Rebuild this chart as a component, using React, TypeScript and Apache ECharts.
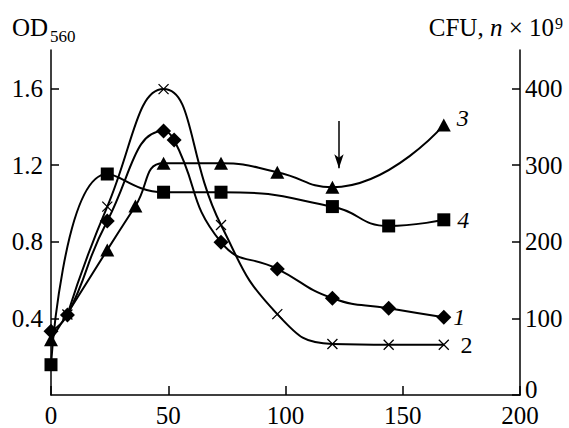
import React, { useEffect, useRef } from "react";
import * as echarts from "echarts";

const leftTicks = [0.4, 0.8, 1.2, 1.6];
const rightTicks = [0, 100, 200, 300, 400];

// series 1 – diamonds
const curve1: number[][] = [
  [0, 0.332], [7, 0.418], [24, 0.908], [48, 1.377], [52.5, 1.33],
  [72.5, 0.797], [96.5, 0.658], [120, 0.505], [144, 0.453], [167.5, 0.406],
];
// series 2 – crosses
const curve2: number[][] = [
  [7, 0.42], [24, 0.983], [48, 1.596], [72.5, 0.887], [96.5, 0.422],
  [120, 0.266], [144, 0.262], [167.5, 0.262],
];
// series 3 – triangles
const curve3: number[][] = [
  [0, 0.288], [24, 0.757], [36, 0.986], [48, 1.209],
  [72.5, 1.209], [96.5, 1.162], [120, 1.084], [167.5, 1.409],
];
// series 4 – squares
const curve4: number[][] = [
  [0, 0.158], [24, 1.153], [48, 1.058], [72.5, 1.058],
  [120, 0.983], [144, 0.882], [167.5, 0.914],
];
const curveNames = ["1", "2", "3", "4"];
const arrowStart = [122.8, 1.43];
const arrowEnd = [122.8, 1.183];

const FONT = "'Liberation Serif', 'DejaVu Serif', serif";
const CROSS = "path://M0,0L10,10M10,0L0,10";

function withEndLabel(pts: number[][], name: string, extra: any) {
  return pts.map((p, i) =>
    i === pts.length - 1
      ? {
          value: p,
          label: {
            show: true,
            formatter: name,
            position: "right",
            color: "#000",
            fontFamily: FONT,
            fontSize: 24,
            ...extra,
          },
        }
      : { value: p }
  );
}

export default function App() {
  const ref = useRef<HTMLDivElement>(null);
  useEffect(() => {
    if (!ref.current) return;
    const chart = echarts.init(ref.current, null, { renderer: "svg" });
    const axisLine = { show: true, lineStyle: { color: "#000", width: 1.5 } };
    const lineBase = {
      type: "line",
      smooth: 0.5,
      lineStyle: { color: "#000", width: 2 },
      z: 3,
    };
    chart.setOption({
      animation: false,
      backgroundColor: "#fff",
      grid: { left: 51, right: 49, top: 50, bottom: 31 },
      xAxis: {
        type: "value",
        min: 0,
        max: 200,
        interval: 50,
        axisLine,
        axisTick: { show: true, inside: true, length: 9, lineStyle: { color: "#000", width: 1.5 } },
        axisLabel: { color: "#000", fontFamily: FONT, fontSize: 25, margin: 8 },
        splitLine: { show: false },
      },
      yAxis: [
        {
          type: "value",
          min: 0,
          max: 1.8,
          position: "left",
          axisLine,
          axisTick: {
            show: true,
            inside: true,
            length: 8,
            customValues: leftTicks,
            lineStyle: { color: "#000", width: 1.5 },
          },
          axisLabel: {
            color: "#000",
            fontFamily: FONT,
            fontSize: 25,
            margin: 8,
            customValues: leftTicks,
            formatter: (v: number) => v.toFixed(1),
          },
          splitLine: { show: false },
        },
        {
          type: "value",
          min: 0,
          max: 450,
          position: "right",
          axisLine,
          axisTick: {
            show: true,
            inside: true,
            length: 8,
            customValues: rightTicks,
            lineStyle: { color: "#000", width: 1.5 },
          },
          axisLabel: {
            color: "#000",
            fontFamily: FONT,
            fontSize: 25,
            margin: 5,
            customValues: rightTicks,
            formatter: (v: number) => (v === 0 ? "{z|0}" : String(v)),
            rich: {
              z: { fontFamily: FONT, fontSize: 25, color: "#000", padding: [0, 0, 12, 0] },
            },
          },
          splitLine: { show: false },
        },
      ],
      graphic: [
        {
          type: "text",
          x: 12,
          y: 27,
          style: { text: "OD", fontFamily: FONT, fontSize: 25, fill: "#000", verticalAlign: "middle", align: "left" },
        },
        {
          type: "text",
          x: 50,
          y: 36,
          style: { text: "560", fontFamily: FONT, fontSize: 17, fill: "#000", verticalAlign: "middle", align: "left" },
        },
        {
          type: "text",
          x: 554,
          y: 27,
          style: {
            text: "CFU, {i|n} × 10",
            fontFamily: FONT,
            fontSize: 25,
            fill: "#000",
            verticalAlign: "middle",
            align: "right",
            rich: { i: { fontFamily: FONT, fontSize: 25, fontStyle: "italic", fill: "#000" } },
          },
        },
        {
          type: "text",
          x: 555,
          y: 23.5,
          style: { text: "9", fontFamily: FONT, fontSize: 16, fill: "#000", verticalAlign: "middle", align: "left" },
        },
      ],
      series: [
        {
          ...lineBase,
          name: curveNames[0],
          symbol: "diamond",
          symbolSize: 15,
          itemStyle: { color: "#000" },
          data: withEndLabel(curve1, curveNames[0], { fontStyle: "italic", distance: 2 }),
        },
        {
          ...lineBase,
          name: curveNames[1],
          symbol: CROSS,
          symbolSize: 10,
          itemStyle: { color: "rgba(0,0,0,0)", borderColor: "#000", borderWidth: 1.3 },
          data: withEndLabel(curve2, curveNames[1], { distance: 11 }),
        },
        {
          ...lineBase,
          name: curveNames[2],
          symbol: "triangle",
          symbolSize: [14, 13],
          itemStyle: { color: "#000" },
          data: withEndLabel(curve3, curveNames[2], { fontStyle: "italic", distance: 6, offset: [0, -7] }),
          markLine: {
            silent: true,
            symbol: ["none", "arrow"],
            symbolSize: [7, 14],
            lineStyle: { color: "#000", width: 1.5, type: "solid" },
            label: { show: false },
            data: [[{ coord: arrowStart }, { coord: arrowEnd }]],
          },
        },
        {
          ...lineBase,
          name: curveNames[3],
          symbol: "rect",
          symbolSize: 13,
          itemStyle: { color: "#000" },
          data: withEndLabel(curve4, curveNames[3], { fontStyle: "italic", distance: 7 }),
        },
      ],
    });
    return () => chart.dispose();
  }, []);
  return (
    <div
      ref={ref}
      style={{ position: "fixed", left: 0, top: 0, width: 569, height: 428, background: "#fff" }}
    />
  );
}
